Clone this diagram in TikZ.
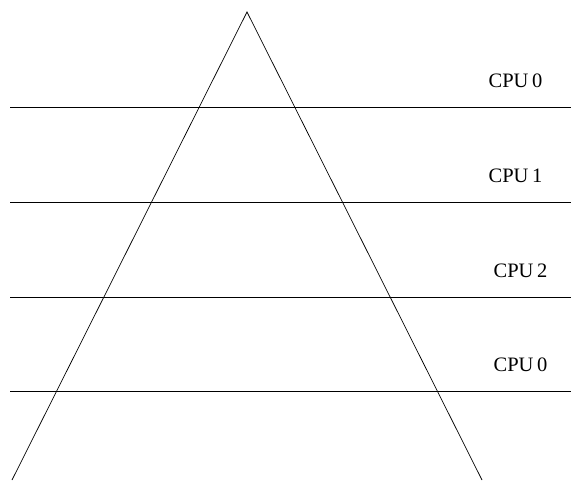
\documentclass[tikz,border=0pt]{standalone}
\usepackage{fontspec}
\setmainfont{Liberation Serif}
\usetikzlibrary{positioning}

\begin{document}
\begin{tikzpicture}[x=1pt,y=-1pt,line width=0.7pt,
  cpu/.style={font=\fontsize{20.5}{24}\selectfont,inner sep=0pt}]
\useasboundingbox (0,0) rectangle (571,482);
% pyramid
\coordinate (top) at (247,12);
\coordinate (bl) at (12,480);
\coordinate (br) at (482,480);
\draw (bl) -- (top) -- (br);
% levels
\foreach \i/\y in {0/107,1/202,2/297,3/391}{
  \coordinate (l\i) at (10,\y);
  \coordinate (r\i) at (571,\y);
  \draw (l\i) -- (r\i);
}
% labels
\node[cpu] (c0) at (515.5,81) {CPU\hspace{0.18em}0};
\node[cpu] (c1) at (515.5,176) {CPU\hspace{0.18em}1};
\node[cpu] (c2) at (520.5,271) {CPU\hspace{0.18em}2};
\node[cpu] (c3) at (520.5,365) {CPU\hspace{0.18em}0};
\end{tikzpicture}
\end{document}
